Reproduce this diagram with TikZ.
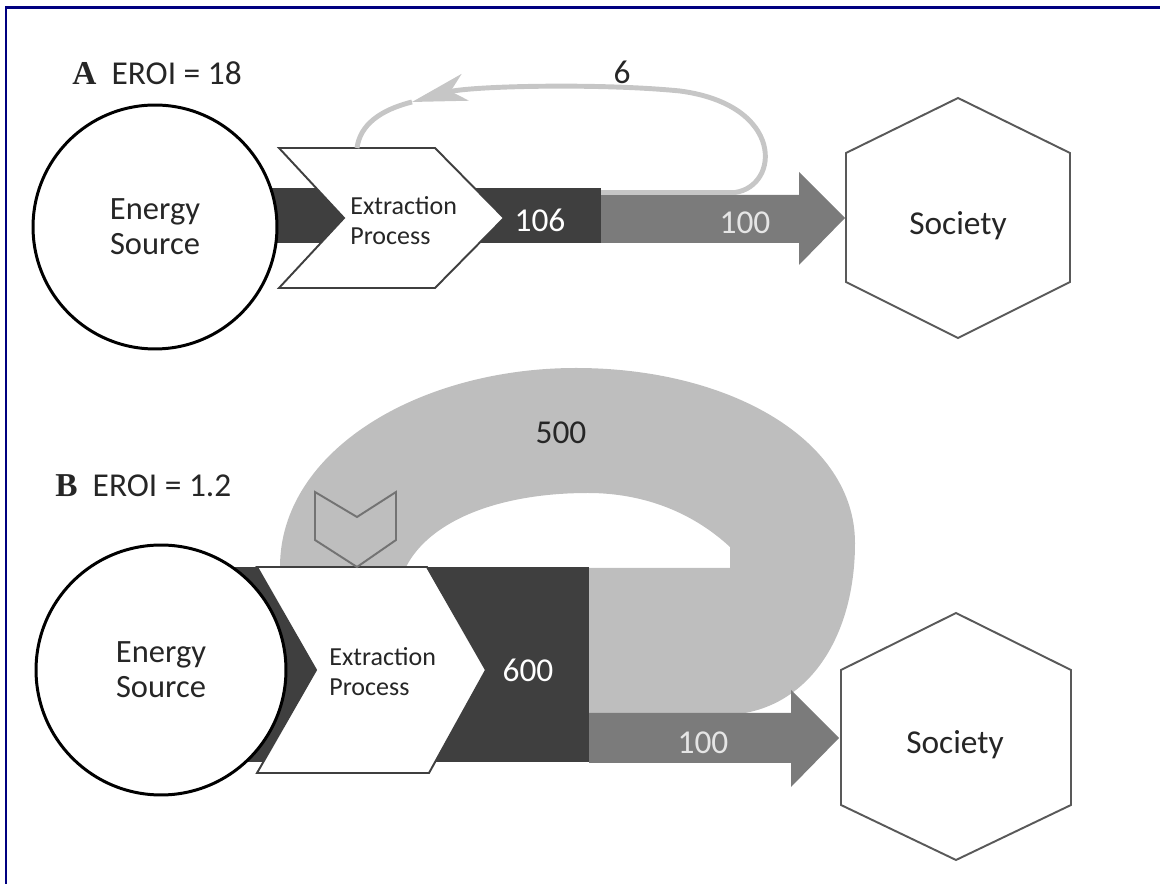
\documentclass[tikz,border=0pt]{standalone}
\usepackage{fontspec}
\setmainfont{Carlito}
\newfontfamily\serifbold{Liberation Serif}
\usetikzlibrary{arrows.meta}

\definecolor{darkflow}{HTML}{3F3F3F}
\definecolor{midflow}{HTML}{7B7B7B}
\definecolor{lightflow}{HTML}{BEBEBE}
\definecolor{loopline}{HTML}{C6C6C6}
\definecolor{framecol}{HTML}{000080}
\definecolor{inktext}{HTML}{262626}

\tikzset{
  source/.style = {circle, draw=black, line width=1.7pt, fill=white, align=center,
    font=\fontsize{18.5}{20}\selectfont, text=inktext, inner sep=0pt},
  proc/.style = {draw=darkflow, line width=1.1pt, fill=white},
  proctext/.style = {align=left, anchor=west, font=\fontsize{14.8}{17}\selectfont,
    text=inktext, inner sep=0pt},
  hexline/.style = {draw=black!65, line width=1.1pt, fill=white},
  tagtext/.style = {anchor=west, font=\fontsize{19}{22}\selectfont, text=inktext, inner sep=0pt},
  flownum/.style = {font=\fontsize{19}{22}\selectfont, inner sep=0pt},
  downmark/.style = {draw=black!55, line width=1.1pt, fill=lightflow},
}

\begin{document}
\begin{tikzpicture} [x=0.02cm, y=-0.02cm]
        \useasboundingbox (0,0) rectangle (1160,884);
        \draw [framecol, line width=1.7pt] (6,884) -- (6,8) -- (1160,8);

        % A: EROI = 18
        \node (tagA) [tagtext] at (72,73) {{\serifbold\bfseries A}\ \ EROI = 18};
        \fill [darkflow] (200,188) rectangle (601,243);
        \fill [midflow] (601,195) -- (799,195) -- (799,172) -- (845,218)
            -- (799,265) -- (799,243) -- (601,243) -- cycle;
        \node (srcA) [source, minimum size=4.88cm] at (155,227) {Energy\\Source};
        \draw [proc] (279,148) -- (435,148) -- (504,218) -- (435,288)
            -- (279,288) -- (344,218) -- cycle;
        \node (extA) [proctext] at (350,221) {Extraction\\Process};
        \node (numA) [flownum, text=white] at (540,220) {106};
        \node (outA) [flownum, text=black!10] at (745,223) {100};

        \coordinate (splitA) at (601,192.5);
        \coordinate (headA) at (412,102);
        \coordinate (topA) at (357,148);
        \draw [loopline, line width=2.8pt, -{Stealth[length=1.1cm, width=0.55cm, inset=0.3cm]}]
            (splitA) -- (735,192.5) .. controls (780,186) and (785,105) .. (680,91)
            .. controls (600,83) and (470,86) .. (headA);
        \draw [loopline, line width=2.8pt] (headA) .. controls (380,110) and (360,125) .. (topA);
        \node (backA) [flownum, text=inktext] at (622,72) {6};

        \draw [hexline] (958,98) -- (1070,153) -- (1070,282) -- (958,338)
            -- (846,282) -- (846,153) -- cycle;
        \node (socA) [tagtext, anchor=center] at (958,226) {Society};

        % B: EROI = 1.2
        \node (tagB) [tagtext] at (55,486) {{\serifbold\bfseries B}\ \ EROI = 1.2};
        \fill [lightflow] (280,567) .. controls (280,450) and (420,368) .. (576,368)
            .. controls (730,368) and (855,440) .. (855,543)
            .. controls (855,630) and (815,700) .. (745,713) -- (589,713) -- (589,568)
            -- (730,568) -- (730,547) .. controls (690,510) and (640,493) .. (588,493)
            .. controls (500,493) and (430,520) .. (406,567) -- cycle;
        \fill [darkflow] (200,567) rectangle (589,762);
        \fill [midflow] (589,713) -- (791,713) -- (791,690) -- (839,738)
            -- (791,787) -- (791,763) -- (589,763) -- cycle;
        \node (srcB) [source, minimum size=5cm] at (161,670) {Energy\\Source};
        \draw [proc] (257,567) -- (427,567) -- (486,670) -- (429,773)
            -- (257,773) -- (316,670) -- cycle;
        \node (extB) [proctext] at (329,672) {Extraction\\Process};
        \draw [downmark] (315,492) -- (357,517) -- (396,492) -- (396,540)
            -- (357,567) -- (315,540) -- cycle;
        \node (numB) [flownum, text=white] at (528,670) {600};
        \node (outB) [flownum, text=black!10] at (703,743) {100};
        \node (backB) [flownum, text=inktext] at (561,433) {500};

        \draw [hexline] (956,613) -- (1071,670) -- (1071,805) -- (956,860)
            -- (841,805) -- (841,670) -- cycle;
        \node (socB) [tagtext, anchor=center] at (955,745) {Society};
    \end{tikzpicture}
\end{document}
